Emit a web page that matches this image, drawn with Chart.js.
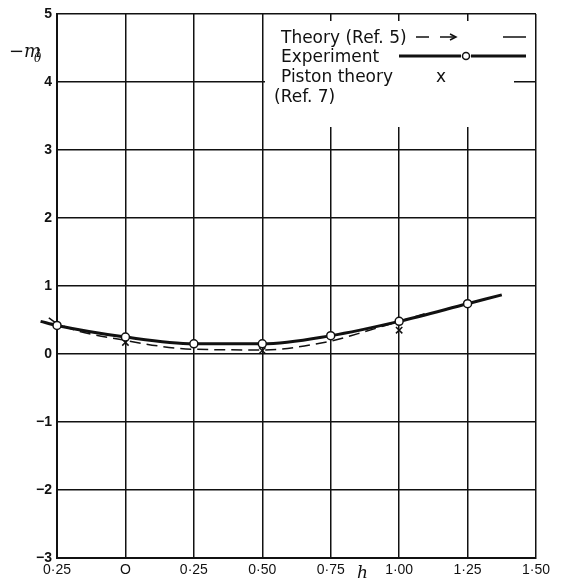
<!DOCTYPE html>
<html>
<head>
<meta charset="utf-8">
<script src="https://cdn.jsdelivr.net/npm/chart.js@4.4.1/dist/chart.umd.min.js"></script>
<style>
  html, body { margin: 0; padding: 0; background: #fff; }
  #wrap { width: 561px; height: 584px; position: relative; }
</style>
</head>
<body>
<div id="wrap"><canvas id="dampChart"></canvas></div>
<script>
// Damping derivative -m_theta_dot against h

const xTickLabels = ['0·25', 'O', '0·25', '0·50', '0·75', '1·00', '1·25', '1·50'];
const yTickLabels = ['−3', '−2', '−1', '0', '1', '2', '3', '4', '5'];

// Experiment: measured points and the faired curve through them
const expX = [-0.25, 0, 0.25, 0.5, 0.75, 1.0, 1.25];
const expY = [0.42, 0.25, 0.15, 0.15, 0.27, 0.48, 0.74];
const expCurveX = [-0.31, -0.25, 0, 0.25, 0.5, 0.75, 1.0, 1.25, 1.375];
const expCurveY = [0.48, 0.42, 0.25, 0.15, 0.15, 0.27, 0.48, 0.74, 0.87];

// Theory (Ref. 5)
const theoryX = [-0.28, -0.25, 0, 0.25, 0.5, 0.75, 0.85, 0.95, 1.1];
const theoryY = [0.53, 0.45, 0.2, 0.07, 0.06, 0.19, 0.3, 0.42, 0.6];

// Piston theory (Ref. 7)
const pistonX = [0, 0.5, 1.0];
const pistonY = [0.17, 0.05, 0.35];

const ink = '#111';
const pts = (xs, ys) => xs.map((x, i) => ({ x: x, y: ys[i] }));

const paperNotes = {
    id: 'paperNotes',
    beforeDatasetsDraw(chart) {
        // blank panel behind the key, top right of the grid
        const ctx = chart.ctx;
        ctx.save();
        ctx.fillStyle = '#fff';
        ctx.fillRect(265, 21, 249, 106);
        ctx.fillRect(514, 21, 20, 55);
        ctx.fillRect(514, 86, 20, 41);
        ctx.restore();
    },
    afterDraw(chart) {
        const ctx = chart.ctx;
        ctx.save();
        ctx.fillStyle = ink;
        ctx.strokeStyle = ink;
        ctx.textBaseline = 'alphabetic';

        // key text
        ctx.font = '17px "DejaVu Sans", sans-serif';
        ctx.fillText('Theory (Ref. 5)', 281, 43);
        ctx.fillText('Experiment', 281, 62);
        ctx.fillText('Piston theory', 281, 82);
        ctx.fillText('x', 436, 82);
        ctx.fillText('(Ref. 7)', 274, 102);

        // theory sample: dashes with an arrow
        ctx.lineWidth = 1.5;
        ctx.beginPath();
        ctx.moveTo(416, 37); ctx.lineTo(429, 37);
        ctx.moveTo(440, 37); ctx.lineTo(455, 37);
        ctx.moveTo(503, 37); ctx.lineTo(526, 37);
        ctx.stroke();
        ctx.beginPath();
        ctx.moveTo(450, 34); ctx.lineTo(456, 37); ctx.lineTo(450, 40);
        ctx.stroke();

        // experiment sample: heavy line with a ring
        ctx.lineWidth = 3;
        ctx.beginPath();
        ctx.moveTo(399, 56); ctx.lineTo(461, 56);
        ctx.moveTo(471, 56); ctx.lineTo(526, 56);
        ctx.stroke();
        ctx.lineWidth = 1.5;
        ctx.fillStyle = '#fff';
        ctx.beginPath();
        ctx.arc(466, 56, 3.5, 0, Math.PI * 2);
        ctx.fill();
        ctx.stroke();

        // y axis title  -m with subscript theta, dot above it
        ctx.fillStyle = ink;
        ctx.font = 'italic 18px "DejaVu Serif", serif';
        ctx.fillText('−m', 9, 57);
        ctx.font = 'italic 12px "DejaVu Serif", serif';
        ctx.fillText('θ', 34, 62);
        ctx.beginPath();
        ctx.arc(38.5, 50, 1.3, 0, Math.PI * 2);
        ctx.fill();

        // x axis title
        ctx.font = 'italic 17px "DejaVu Serif", serif';
        ctx.fillText('h', 357, 578);
        ctx.restore();
    }
};

new Chart(document.getElementById('dampChart'), {
    type: 'scatter',
    data: {
        datasets: [
            {
                label: 'Experiment',
                data: pts(expX, expY),
                showLine: false,
                pointStyle: 'circle',
                pointRadius: 4,
                pointBackgroundColor: '#fff',
                pointBorderColor: ink,
                pointBorderWidth: 1.5,
                clip: false,
                order: 0
            },
            {
                label: 'Piston theory (Ref. 7)',
                data: pts(pistonX, pistonY),
                showLine: false,
                pointStyle: 'crossRot',
                pointRadius: 4.5,
                pointBorderColor: ink,
                pointBorderWidth: 1.5,
                clip: false,
                order: 1
            },
            {
                label: 'Experiment curve',
                data: pts(expCurveX, expCurveY),
                showLine: true,
                borderColor: ink,
                borderWidth: 3,
                pointRadius: 0,
                cubicInterpolationMode: 'monotone',
                clip: false,
                order: 2
            },
            {
                label: 'Theory (Ref. 5)',
                data: pts(theoryX, theoryY),
                showLine: true,
                borderColor: ink,
                borderWidth: 1.5,
                borderDash: [11, 6],
                pointRadius: 0,
                cubicInterpolationMode: 'monotone',
                clip: false,
                order: 3
            }
        ]
    },
    options: {
        responsive: true,
        maintainAspectRatio: false,
        animation: false,
        layout: { padding: { left: 0, right: 25, top: 14, bottom: 0 } },
        plugins: {
            legend: { display: false },
            tooltip: { enabled: false }
        },
        scales: {
            x: {
                type: 'linear',
                min: -0.25,
                max: 1.5,
                afterFit(scale) { scale.height = 26; },
                ticks: {
                    stepSize: 0.25,
                    autoSkip: false,
                    maxRotation: 0,
                    padding: 4,
                    color: ink,
                    font: { family: '"Liberation Sans", sans-serif', size: 14 },
                    callback: (v) => xTickLabels[Math.round((v + 0.25) / 0.25)]
                },
                grid: { color: ink, lineWidth: 1.5, drawTicks: false },
                border: { color: ink, width: 2 }
            },
            y: {
                min: -3,
                max: 5,
                afterFit(scale) { scale.width = 57; },
                ticks: {
                    stepSize: 1,
                    autoSkip: false,
                    padding: 5,
                    color: ink,
                    font: { family: '"Liberation Sans", sans-serif', size: 14, weight: 'bold' },
                    callback: (v) => yTickLabels[Math.round(v + 3)]
                },
                grid: { color: ink, lineWidth: 1.5, drawTicks: false },
                border: { color: ink, width: 2 }
            }
        }
    },
    plugins: [paperNotes]
});
</script>
</body>
</html>
